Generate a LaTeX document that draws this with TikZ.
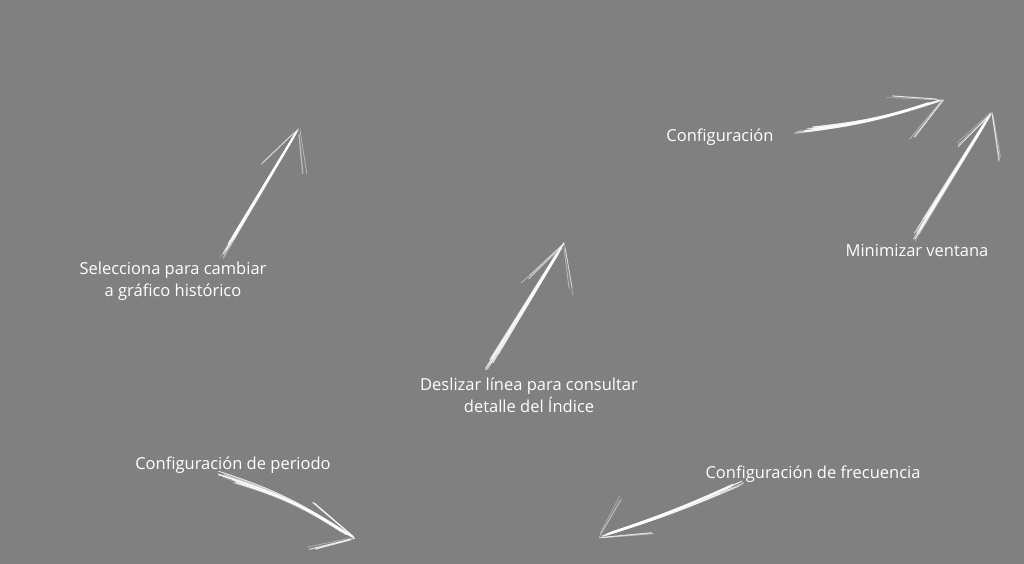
\documentclass[tikz,border=0pt]{standalone}
\usepackage{fontspec}
\setmainfont{Open Sans}
\usetikzlibrary{calc}
\definecolor{boardgray}{HTML}{808080}
\tikzset{
  caption/.style={text=white, font=\fontsize{16.5}{22}\selectfont, align=center, inner sep=0pt},
  chalk/.style={draw=white, line cap=round},
}
% one chalk stroke, drawn several times with a little jitter
\newcommand{\chalkline}[4]{%
  \foreach \k in {1,...,#4}{
    \pgfmathsetmacro{\dx}{4.2*rnd-2.1}
    \pgfmathsetmacro{\dy}{4.2*rnd-2.1}
    \pgfmathsetmacro{\op}{0.3+0.6*rnd}
    \pgfmathsetmacro{\lw}{0.3+1.0*rnd}
    \pgfmathsetmacro{\sa}{0.18*rnd}
    \pgfmathsetmacro{\sb}{1-0.12*rnd}
    \draw[chalk, opacity=\op, line width=\lw pt]
      ($(#1)!\sa!(#2)+(\dx,\dy)$) to[bend left=#3] ($(#1)!\sb!(#2)+(0.4*\dx,0.4*\dy)$);
  }
}
\begin{document}
\begin{tikzpicture}[x=1pt, y=-1pt]
\pgfmathsetseed{11}
\fill[boardgray] (0,0) rectangle (1024,564);
\useasboundingbox (0,0) rectangle (1024,564);
% captions
\node[caption] (select) at (173,281) {Selecciona para cambiar\\a gráfico histórico};
\node[caption] (config) at (720,137) {Configuración};
\node[caption] (minim) at (917,251) {Minimizar ventana};
\node[caption] (slide) at (529,395) {Deslizar línea para consultar\\detalle del Índice};
\node[caption] (period) at (233,465) {Configuración de periodo};
\node[caption] (freq) at (813,474) {Configuración de frecuencia};
% arrow ends
\coordinate (selectA) at (222,257);  \coordinate (selectB) at (299,128);
\coordinate (selectL) at (257,168);  \coordinate (selectR) at (306,182);
\coordinate (configA) at (793,133);  \coordinate (configB) at (943,100);
\coordinate (configL) at (884,97);   \coordinate (configR) at (909,143);
\coordinate (minimA) at (913,240);   \coordinate (minimB) at (992,112);
\coordinate (minimL) at (952,150);   \coordinate (minimR) at (1000,163);
\coordinate (slideA) at (485,372);   \coordinate (slideB) at (564,243);
\coordinate (slideL) at (522,282);   \coordinate (slideR) at (572,295);
\coordinate (periodA) at (217,473);  \coordinate (periodB) at (355,538);
\coordinate (periodL) at (312,501);  \coordinate (periodR) at (305,550);
\coordinate (freqA) at (742,483);    \coordinate (freqB) at (598,538);
\coordinate (freqL) at (623,493);    \coordinate (freqR) at (657,533);
% chalk arrows
\chalkline{selectA}{selectB}{0}{18}
\chalkline{selectL}{selectB}{0}{3}
\chalkline{selectR}{selectB}{0}{3}
\chalkline{configA}{configB}{-6}{18}
\chalkline{configL}{configB}{0}{3}
\chalkline{configR}{configB}{0}{3}
\chalkline{minimA}{minimB}{0}{18}
\chalkline{minimL}{minimB}{0}{3}
\chalkline{minimR}{minimB}{0}{3}
\chalkline{slideA}{slideB}{0}{18}
\chalkline{slideL}{slideB}{0}{3}
\chalkline{slideR}{slideB}{0}{3}
\chalkline{periodA}{periodB}{8}{18}
\chalkline{periodL}{periodB}{0}{3}
\chalkline{periodR}{periodB}{0}{3}
\chalkline{freqA}{freqB}{3}{18}
\chalkline{freqL}{freqB}{0}{3}
\chalkline{freqR}{freqB}{0}{3}
\end{tikzpicture}
\end{document}
